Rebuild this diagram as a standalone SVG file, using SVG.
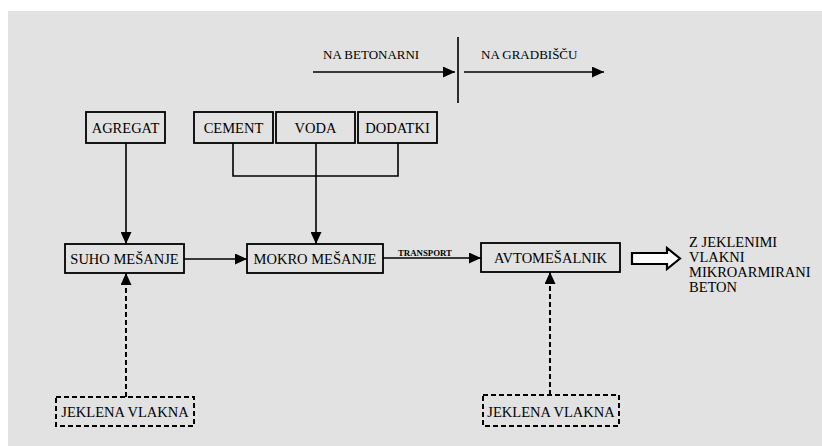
<svg xmlns="http://www.w3.org/2000/svg" width="822" height="446" viewBox="0 0 822 446">
<defs>
<marker id="ah" markerUnits="userSpaceOnUse" markerWidth="13" markerHeight="11" refX="12" refY="5.5" orient="auto">
<path d="M0,0 L12,5.5 L0,11 Z" fill="#000"/>
</marker>
<style>
.box{fill:none;stroke:#000;stroke-width:1.8}
.dbox{fill:none;stroke:#000;stroke-width:2;stroke-dasharray:5 3}
.ln{fill:none;stroke:#000;stroke-width:1.6}
.dl{fill:none;stroke:#000;stroke-width:2;stroke-dasharray:5 3}
text{font-family:'Liberation Serif','Times New Roman','DejaVu Serif',serif;fill:#000}
.t{font-size:14.5px;text-anchor:middle}
.tl{font-size:14.5px}
.hd{font-size:13px}
.tr{font-size:8px;font-weight:bold}
</style>
</defs>
<rect x="0" y="0" width="822" height="446" fill="#ffffff"/>
<rect x="8" y="11" width="814" height="435" fill="#e2e2e2"/>

<g id="header">
<text class="hd" x="323" y="59">NA BETONARNI</text>
<text class="hd" x="481" y="59">NA GRADBIŠČU</text>
<line class="ln" x1="458" y1="37" x2="458" y2="103"/>
</g>

<g id="agregat"><rect class="box" x="86" y="112" width="79" height="31"/><text class="t" x="125.5" y="133">AGREGAT</text></g>
<g id="cement"><rect class="box" x="194" y="112" width="79" height="31"/><text class="t" x="233.5" y="133">CEMENT</text></g>
<g id="voda"><rect class="box" x="276" y="112" width="79" height="31"/><text class="t" x="315.5" y="133">VODA</text></g>
<g id="dodatki"><rect class="box" x="358" y="112" width="79" height="31"/><text class="t" x="397.5" y="133">DODATKI</text></g>
<g id="suho"><rect class="box" x="65" y="244" width="119" height="29"/><text class="t" x="124.5" y="264">SUHO MEŠANJE</text></g>
<g id="mokro"><rect class="box" x="247" y="244" width="136" height="29"/><text class="t" x="315" y="264">MOKRO MEŠANJE</text></g>
<g id="avto"><rect class="box" x="481" y="243" width="139" height="29"/><text class="t" x="550.5" y="263">AVTOMEŠALNIK</text></g>
<g id="jeklena1"><rect class="dbox" x="56" y="397" width="138" height="29"/><text class="t" x="125" y="417">JEKLENA VLAKNA</text></g>
<g id="jeklena2"><rect class="dbox" x="483" y="395" width="136" height="31"/><text class="t" x="551" y="417">JEKLENA VLAKNA</text></g>
<g id="result">
<text class="tl" x="689" y="247">Z JEKLENIMI</text>
<text class="tl" x="689" y="262">VLAKNI</text>
<text class="tl" x="689" y="277">MIKROARMIRANI</text>
<text class="tl" x="689" y="292">BETON</text>
</g>

<g id="connectors">
<line class="ln" x1="313" y1="72" x2="455" y2="72" marker-end="url(#ah)"/>
<line class="ln" x1="464" y1="72" x2="604" y2="72" marker-end="url(#ah)"/>
<line class="ln" x1="126" y1="143" x2="126" y2="244" marker-end="url(#ah)"/>
<polyline class="ln" points="233,143 233,176 398,176 398,143"/>
<line class="ln" x1="316" y1="143" x2="316" y2="244" marker-end="url(#ah)"/>
<line class="ln" x1="184" y1="259" x2="247" y2="259" marker-end="url(#ah)"/>
<line class="ln" x1="383" y1="258" x2="481" y2="258" marker-end="url(#ah)"/>
<text class="tr" x="398" y="256" textLength="54" lengthAdjust="spacingAndGlyphs">TRANSPORT</text>
<line class="dl" x1="126" y1="397" x2="126" y2="273" marker-end="url(#ah)"/>
<line class="dl" x1="550" y1="395" x2="550" y2="272" marker-end="url(#ah)"/>
<path d="M632,253 L667,253 L667,248 L680,258.5 L667,269 L667,264 L632,264 Z" fill="#fff" stroke="#000" stroke-width="2.2" stroke-linejoin="miter"/>
</g>
</svg>
